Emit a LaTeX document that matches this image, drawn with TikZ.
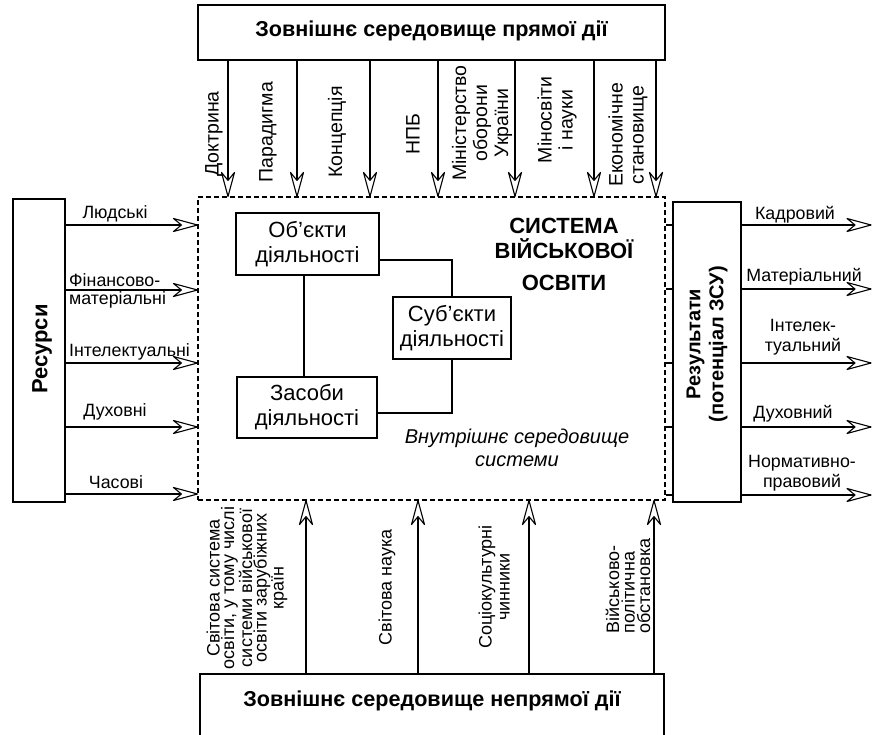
\documentclass[tikz,border=0pt]{standalone}
\usepackage{fontspec}
\setmainfont{Liberation Sans}
\usetikzlibrary{decorations.markings}
\begin{document}
\begin{tikzpicture}[x=1pt,y=-1pt,
  arr/.style={line width=1.1pt, postaction={decorate},
    decoration={markings, mark=at position 1 with {\draw[line width=1.1pt, fill=white, line join=round] (0pt,0pt) -- (-24pt,6.5pt) -- (-16pt,0pt) -- (-24pt,-6.5pt) -- cycle;}}},
  conn/.style={line width=1.1pt},
  box/.style={draw, line width=1.1pt, inner sep=0pt, align=center},
  sbox/.style={draw, line width=1.1pt, inner sep=0pt, align=center, font=\fontsize{22}{25}\selectfont},
  lbl/.style={font=\fontsize{17.8}{20}\selectfont, inner sep=0pt, align=center},
  tlbl/.style={font=\fontsize{19.5}{21}\selectfont, inner sep=0pt, align=center, rotate=90},
  blbl/.style={font=\fontsize{18}{14.5}\selectfont, inner sep=0pt, align=center, rotate=90},
  ttl/.style={font=\fontsize{21.6}{24}\selectfont\bfseries, inner sep=0pt}
]
\useasboundingbox (0,0) rectangle (872,735);
% main boxes
\node[box, minimum width=467, minimum height=55] (top) at (431.5,32.5) {};
\node[ttl] (toptxt) at (431.5,31) {Зовнішнє середовище прямої дії};
\node[draw, line width=1.1pt, dash pattern=on 5pt off 3pt, minimum width=467, minimum height=303, inner sep=0pt] (sys) at (431.5,348.5) {};
\node[box, minimum width=52, minimum height=303] (res) at (39,350.5) {};
\node[ttl, font=\fontsize{22}{24}\selectfont\bfseries, rotate=90] (restxt) at (42,349) {Ресурси};
\node[box, minimum width=68, minimum height=300] (out) at (707,352) {};
\node[ttl, font=\fontsize{20}{23}\selectfont\bfseries, rotate=90, align=center] (outtxt) at (707,344) {Результати\\(потенціал ЗСУ)};
\node[box, minimum width=464, minimum height=90] (bot) at (432,719) {};
\node[ttl] (bottxt) at (432,701) {Зовнішнє середовище непрямої дії};

% top arrows
\coordinate (c1) at (228,0);
\coordinate (c2) at (297,0);
\coordinate (c3) at (370,0);
\coordinate (c4) at (438,0);
\coordinate (c5) at (515,0);
\coordinate (c6) at (594,0);
\coordinate (c7) at (656,0);
\draw[arr] (top.south -| c1) -- (sys.north -| c1);
\draw[arr] (top.south -| c2) -- (sys.north -| c2);
\draw[arr] (top.south -| c3) -- (sys.north -| c3);
\draw[arr] (top.south -| c4) -- (sys.north -| c4);
\draw[arr] (top.south -| c5) -- (sys.north -| c5);
\draw[arr] (top.south -| c6) -- (sys.north -| c6);
\draw[arr] (top.south -| c7) -- (sys.north -| c7);
\node[tlbl] (l1) at (214,134) {Доктрина};
\node[tlbl] (l2) at (268,132) {Парадигма};
\node[tlbl] (l3) at (337,132) {Концепція};
\node[tlbl] (l4) at (413,134) {НПБ};
\node[tlbl] (l5) at (482,123) {Міністерство\\оборони\\України};
\node[tlbl] (l6) at (557,120) {Міносвіти\\і науки};
\node[tlbl] (l7) at (628,135) {Економічне\\становище};

% left rows
\coordinate (r1) at (0,225);
\coordinate (r2) at (0,290);
\coordinate (r3) at (0,363);
\coordinate (r4) at (0,427);
\coordinate (r5) at (0,494);
\draw[arr] (res.east |- r1) -- (sys.west |- r1);
\draw[arr] (res.east |- r2) -- (sys.west |- r2);
\draw[arr] (res.east |- r3) -- (sys.west |- r3);
\draw[arr] (res.east |- r4) -- (sys.west |- r4);
\draw[arr] (res.east |- r5) -- (sys.west |- r5);
\node[lbl] (ll1) at (115,214) {Людські};
\node[lbl, anchor=west] (ll2a) at (69,280) {Фінансово-};
\node[lbl, anchor=west] (ll2b) at (69,300) {матеріальні};
\node[lbl, anchor=west] (ll3) at (69,352) {Інтелектуальні};
\node[lbl] (ll4) at (115,412) {Духовні};
\node[lbl] (ll5) at (116,482) {Часові};

% right rows
\coordinate (e1) at (871,225);
\coordinate (e2) at (871,289);
\coordinate (e3) at (871,363);
\coordinate (e4) at (871,427);
\coordinate (e5) at (871,495);
\draw[conn] (sys.east |- e1) -- (out.west |- e1);
\draw[conn] (sys.east |- e2) -- (out.west |- e2);
\draw[conn] (sys.east |- e3) -- (out.west |- e3);
\draw[conn] (sys.east |- e4) -- (out.west |- e4);
\draw[conn] (sys.east |- e5) -- (out.west |- e5);
\draw[arr] (out.east |- e1) -- (e1);
\draw[arr] (out.east |- e2) -- (e2);
\draw[arr] (out.east |- e3) -- (e3);
\draw[arr] (out.east |- e4) -- (e4);
\draw[arr] (out.east |- e5) -- (e5);
\node[lbl] (rl1) at (795,215) {Кадровий};
\node[lbl] (rl2) at (804,277) {Матеріальний};
\node[lbl] (rl3) at (803,337) {Інтелек-\\туальний};
\node[lbl] (rl4) at (793,414) {Духовний};
\node[lbl] (rl5) at (802,473) {Нормативно-\\правовий};

% bottom arrows
\coordinate (b1) at (306,0);
\coordinate (b2) at (418,0);
\coordinate (b3) at (529,0);
\coordinate (b4) at (654,0);
\draw[arr] (bot.north -| b1) -- (sys.south -| b1);
\draw[arr] (bot.north -| b2) -- (sys.south -| b2);
\draw[arr] (bot.north -| b3) -- (sys.south -| b3);
\draw[arr] (bot.north -| b4) -- (sys.south -| b4);
\node[blbl] (bl1) at (247,588) {Світова система\\освіти, у тому числі\\системи військової\\освіти зарубіжних\\країн};
\node[blbl] (bl2) at (387,587) {Світова наука};
\node[blbl, font=\fontsize{18}{18}\selectfont] (bl3) at (494,587) {Соціокультурні\\чинники};
\node[blbl, align=left, font=\fontsize{18}{15.5}\selectfont] (bl4) at (628,586) {Військово-\\політична\\обстановка};

% inner system
\node[sbox, minimum width=143, minimum height=62] (obj) at (307.5,244) {Об'єкти\\діяльності};
\node[sbox, minimum width=118, minimum height=62] (sub) at (452,328) {Суб'єкти\\діяльності};
\node[sbox, minimum width=140, minimum height=61] (zas) at (307,407.5) {Засоби\\діяльності};
\coordinate (k0) at (304,0);
\coordinate (k1) at (0,260);
\coordinate (k2) at (0,413);
\draw[conn] (obj.south -| k0) -- (zas.north -| k0);
\draw[conn] (obj.east |- k1) -| (sub.north);
\draw[conn] (sub.south) |- (zas.east |- k2);
\node[font=\fontsize{22}{25}\selectfont\bfseries, align=center, inner sep=0pt] (systxt) at (564,254) {СИСТЕМА\\ВІЙСЬКОВОЇ\\[7pt]ОСВІТИ};
\node[font=\fontsize{20}{23}\selectfont\itshape, align=center, inner sep=0pt] (intxt) at (517,448) {Внутрішнє середовище\\системи};
\end{tikzpicture}
\end{document}
